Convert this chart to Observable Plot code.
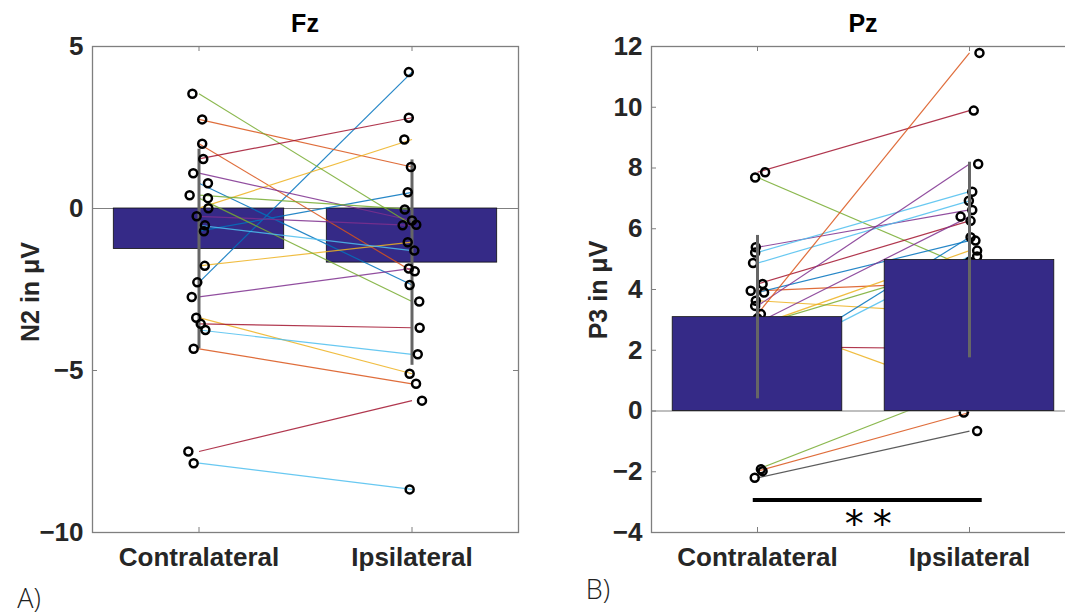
<!DOCTYPE html>
<html><head><meta charset="utf-8">
<script src="https://cdn.jsdelivr.net/npm/d3@7"></script>
<script src="https://cdn.jsdelivr.net/npm/@observablehq/plot@0.6"></script>
<style>
html,body{margin:0;padding:0;background:#fff;overflow:hidden;}
#wrap{position:relative;width:1065px;height:616px;overflow:hidden;font-family:"Liberation Sans",Arial,sans-serif;}
.panel{position:absolute;top:0;}
.title{position:absolute;font-weight:bold;font-size:25px;color:#000;transform:translate(-50%,-50%);white-space:nowrap;}
.ylab{position:absolute;font-weight:bold;font-size:25px;color:#262626;transform:translate(-50%,-50%) rotate(-90deg);white-space:nowrap;}
.tag{position:absolute;font-family:"Open Sans","Liberation Sans",sans-serif;font-weight:300;font-size:27px;color:#222;transform:translate(-50%,-50%);white-space:nowrap;}
g[aria-label="text"] text{letter-spacing:9px;}
</style></head><body><div id="wrap"></div>
<script>
// ---------- data ----------
const categories = ["Contralateral", "Ipsilateral"];
const lineColors = ["#0072BD", "#D95319", "#EDB120", "#7E2F8E", "#77AC30", "#4DBEEE", "#A2142F", "#404040"];

// Fz (N2)
const fzContra = [0.78, -0.70, -2.28, 2.75, 2.00, -4.33, 0.01, -1.77, -3.37, 1.09, -0.24, -2.73, 3.54, 0.41, 0.32, -0.52, -3.75, -7.86, 1.53, -3.56, -7.50];
const fzIpsi   = [-2.36, 0.50, 4.21, 1.28, -1.94, -5.41, 2.13, -1.04, -5.10, -0.37, -0.52, -1.85, -0.50, -0.03, -2.87, -1.30, -4.50, -8.67, 2.80, -3.68, -5.93];
const fzJitC   = [0.042, 0.023, -0.008, 0.015, 0.015, -0.025, 0.044, 0.027, -0.013, -0.027, -0.011, -0.034, -0.031, -0.044, 0.042, 0.028, 0.030, -0.025, 0.020, 0.008, -0.050];
const fzJitI   = [-0.011, -0.020, -0.015, -0.005, 0.013, 0.019, -0.036, -0.020, -0.011, 0, -0.044, -0.015, 0.020, -0.034, 0.034, 0.011, 0.027, -0.011, -0.015, 0.036, 0.047];
const fzGroup  = [0,0,0,1,1,1,2,2,2,3,3,3,4,4,4,5,5,5,6,6,6];
const fzMean   = [-1.25, -1.67];
const fzSD     = [3.08, 3.17];
const fzTicks  = [5, 0, -5, -10];

// Pz (P3)
const pzContra = [7.86, 7.69, 5.39, 5.22, 4.87, 4.18, 3.96, 3.90, 3.63, 3.46, 3.19, 2.90, 1.37, 1.53, 2.82, 2.82, 2.12, 3.05, -1.92, -1.98, -2.20];
const pzIpsi   = [9.89, 4.70, 6.62, 7.22, 6.92, 6.26, 4.25, 5.61, 3.20, 8.13, 11.79, 6.40, 5.72, 5.09, 5.28, 4.91, 2.05, 0.53, 0.80, -0.05, -0.66];
const pzJitC   = [0.036, -0.011, -0.008, -0.011, -0.021, 0.024, -0.032, 0.031, -0.008, -0.011, 0.016, 0, 0, 0, 0, 0, 0, 0, 0.016, 0.024, -0.013];
const pzJitI   = [0.020, 0, 0.013, 0.013, -0.003, 0.005, 0, 0.028, 0, 0.041, 0.047, -0.042, 0.005, 0.036, 0.036, 0, 0, 0, 0, -0.027, 0.036];
const pzGroup  = [6,4,3,5,5,6,1,0,2,3,1,3,0,5,2,4,6,2,4,1,7];
const pzMean   = [3.09, 4.97];
const pzSD     = [2.69, 3.22];
const pzTicks  = [12, 10, 8, 6, 4, 2, 0, -2, -4];
const pzSig    = [{x1: 0.98, x2: 2.06, y: -2.93, label: "**"}];

// ---------- drawing ----------
const FONT = "'Liberation Sans', Arial, Helvetica, sans-serif";
const H = 616, MT = 46, MB = 84;

function panel(o) {
  const subjects = o.contra.map((c, i) => ({c, p: o.ipsi[i], g: o.group[i], xc: 1 + o.jitC[i], xp: 2 + o.jitI[i]}));
  const dots = subjects.flatMap(s => [{x: s.xc, y: s.c}, {x: s.xp, y: s.p}]);
  const bars = categories.map((cat, i) => ({i: i + 1, m: o.mean[i], sd: o.sd[i]}));
  const xPos = categories.map((c, i) => i + 1);
  const plotW = o.width - o.marginLeft - o.marginRight;
  const plotH = H - MT - MB;

  const barMark = Plot.rectY(bars, {x1: d => d.i - 0.4, x2: d => d.i + 0.4, y1: 0, y2: "m", fill: "#352A87", stroke: "#111", strokeWidth: 0.8});
  const linkMark = Plot.link(subjects, {x1: () => xPos[0], x2: () => xPos[1], y1: "c", y2: "p", stroke: "g", strokeWidth: 1.2, strokeOpacity: 0.85});
  const dotMark = Plot.dot(dots, {x: "x", y: "y", r: 4, stroke: "#000", strokeWidth: 2.5, fill: "none"});
  const errMark = Plot.ruleX(bars, {x: "i", y1: d => d.m - d.sd, y2: d => d.m + d.sd, stroke: "#666", strokeWidth: 3});
  const zeroMark = Plot.ruleY([0], {stroke: "#808080", strokeWidth: 1.2});

  const layers = o.linesOnTop
    ? [zeroMark, barMark, linkMark, errMark, dotMark]
    : [linkMark, dotMark, zeroMark, barMark, errMark];

  const marks = [
    Plot.frame({stroke: "#7f7f7f", strokeWidth: 1.3}),
    ...layers,
    ...(o.extra || []),
    // inward ticks
    Plot.tickY(o.yTicks, {y: d => d, insetRight: plotW - 5, stroke: "#7f7f7f"}),
    Plot.tickY(o.yTicks, {y: d => d, insetLeft: plotW - 5, stroke: "#7f7f7f"}),
    Plot.tickX(xPos, {x: d => d, insetBottom: plotH - 5, stroke: "#7f7f7f"}),
    Plot.tickX(xPos, {x: d => d, insetTop: plotH - 5, stroke: "#7f7f7f"}),
    Plot.axisY({ticks: o.yTicks, tickSize: 0, tickPadding: 9, label: null, fontSize: 26, fontWeight: "bold", fill: "#262626"}),
    Plot.axisX({ticks: xPos, tickFormat: d => categories[d - 1], tickSize: 0, tickPadding: 15, label: null, fontSize: 26, fontWeight: "bold", fill: "#262626"})
  ];

  const chart = Plot.plot({
    width: o.width, height: H,
    marginLeft: o.marginLeft, marginRight: o.marginRight, marginTop: MT, marginBottom: MB,
    x: {type: "linear", domain: [0.5, 2.5]},
    y: {domain: o.yDomain},
    color: {type: "ordinal", domain: d3.range(lineColors.length), range: lineColors},
    style: {fontFamily: FONT, fontSize: "26px", background: "transparent", overflow: "visible"},
    marks
  });
  chart.classList.add("panel");
  chart.style.left = o.left + "px";
  return chart;
}

const wrap = document.getElementById("wrap");

wrap.appendChild(panel({
  contra: fzContra, ipsi: fzIpsi, jitC: fzJitC, jitI: fzJitI, group: fzGroup,
  mean: fzMean, sd: fzSD, yDomain: [-10, 5], yTicks: fzTicks,
  left: 0, width: 530, marginLeft: 92, marginRight: 12, linesOnTop: true
}));

wrap.appendChild(panel({
  contra: pzContra, ipsi: pzIpsi, jitC: pzJitC, jitI: pzJitI, group: pzGroup,
  mean: pzMean, sd: pzSD, yDomain: [-4, 12], yTicks: pzTicks,
  left: 540, width: 545, marginLeft: 111, marginRight: 10, linesOnTop: false,
  extra: [
    Plot.ruleY(pzSig, {y: "y", x1: "x1", x2: "x2", stroke: "#000", strokeWidth: 4}),
    Plot.text(pzSig, {x: d => (d.x1 + d.x2) / 2, y: "y", text: "label", dy: 25, dx: 5, fontSize: 38, fill: "#000", fontFamily: "'DejaVu Sans', sans-serif"})
  ]
}));

function addText(cls, txt, x, y) {
  const d = document.createElement("div");
  d.className = cls; d.textContent = txt;
  d.style.left = x + "px"; d.style.top = y + "px";
  wrap.appendChild(d);
}
addText("title", "Fz", 305, 23);
addText("title", "Pz", 863, 23);
addText("ylab", "N2 in μV", 30, 292);
addText("ylab", "P3 in μV", 598, 290);
addText("tag", "A)", 29, 597);
addText("tag", "B)", 598, 588);
</script>
</body></html>
